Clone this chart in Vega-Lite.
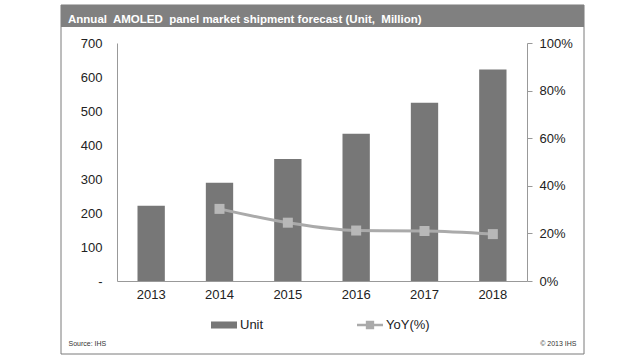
{
  "$schema": "https://vega.github.io/schema/vega-lite/v6.json",
  "width": 410,
  "height": 238,
  "autosize": {"type": "none"},
  "padding": {"left": 117, "top": 43, "right": 113, "bottom": 79},
  "background": "white",
  "config": {"view": {"stroke": null}, "font": "Liberation Sans"},
  "title": {
    "text": "Annual\u00a0 AMOLED\u00a0 panel market shipment forecast (Unit,\u00a0 Million)",
    "anchor": "start",
    "frame": "group",
    "dx": -49,
    "offset": 0,
    "dy": 30,
    "baseline": "alphabetic",
    "font": "Liberation Sans",
    "fontSize": 11.5,
    "fontWeight": "bold",
    "color": "white"
  },
  "data": {
    "values": [
      {"year": "2013", "unit": 221, "yoy": null},
      {"year": "2014", "unit": 289, "yoy": 0.303},
      {"year": "2015", "unit": 359, "yoy": 0.245},
      {"year": "2016", "unit": 433, "yoy": 0.212},
      {"year": "2017", "unit": 524, "yoy": 0.21},
      {"year": "2018", "unit": 622, "yoy": 0.197}
    ]
  },
  "layer": [
    {
      "data": {"values": [{}]},
      "mark": {"type": "rect", "x": -56, "x2": 467, "y": -38, "y2": 311, "fill": "transparent", "stroke": "#7a7a7a", "strokeWidth": 1},
      "encoding": {}
    },
    {
      "data": {"values": [{}]},
      "mark": {"type": "rect", "x": -56, "x2": 467, "y": -38, "y2": -16, "fill": "#808080"},
      "encoding": {}
    },
    {
      "mark": {"type": "bar"},
      "encoding": {
        "x": {
          "field": "year", "type": "ordinal",
          "scale": {"paddingInner": 0.6, "paddingOuter": 0.3},
          "axis": {"title": null, "labelAngle": 0, "ticks": false, "domainColor": "#999999", "labelPadding": 7, "labelFontSize": 13, "labelColor": "#222222"}
        },
        "y": {
          "field": "unit", "type": "quantitative",
          "scale": {"domain": [0, 700]},
          "axis": {
            "values": [0, 100, 200, 300, 400, 500, 600, 700],
            "labelExpr": "datum.value === 0 ? '-' : datum.label",
            "domainColor": "#999999", "ticks": false, "grid": false,
            "labelPadding": 15, "labelFontSize": 13, "labelColor": "#222222",
            "title": "Source: IHS", "titleAngle": 0, "titleX": -49, "titleY": 300,
            "titleAlign": "left", "titleBaseline": "middle", "titleFontSize": 7,
            "titleFontWeight": "normal", "titleColor": "#333333"
          }
        },
        "color": {
          "datum": "Unit",
          "scale": {"domain": ["Unit", "YoY(%)"], "range": ["#777777", "#aaaaaa"]},
          "legend": {
            "orient": "none", "legendX": 94, "legendY": 269, "direction": "horizontal",
            "title": null, "labelFontSize": 13, "labelColor": "#222222",
            "symbolSize": 676, "columnPadding": 93, "labelOffset": 3, "padding": 0,
            "encode": {
              "symbols": {
                "update": {
                  "shape": {"signal": "datum.value === 'Unit' ? 'M-1,-0.27H1V0.27H-1Z' : 'M-1,-0.09H1V0.09H-1Z M-0.32,-0.32H0.32V0.32H-0.32Z'"},
                  "fill": {"signal": "datum.value === 'Unit' ? '#777777' : '#aaaaaa'"},
                  "stroke": {"value": "transparent"},
                  "strokeWidth": {"value": 0},
                  "opacity": {"value": 1},
                  "fillOpacity": {"value": 1}
                }
              }
            }
          }
        }
      }
    },
    {
      "transform": [{"filter": "isValid(datum.yoy)"}],
      "encoding": {
        "x": {
          "field": "year", "type": "ordinal",
          "scale": {"paddingInner": 0.6, "paddingOuter": 0.3},
          "axis": {"title": null, "labelAngle": 0, "ticks": false, "domainColor": "#999999", "labelPadding": 7, "labelFontSize": 13, "labelColor": "#222222"}
        },
        "y": {
          "field": "yoy", "type": "quantitative",
          "scale": {"domain": [0, 1]},
          "axis": {
            "orient": "right", "format": ".0%",
            "values": [0, 0.2, 0.4, 0.6, 0.8, 1],
            "domainColor": "#999999", "tickColor": "#999999", "tickSize": 5, "grid": false,
            "labelPadding": 7, "labelFontSize": 13, "labelColor": "#222222",
            "title": "© 2013 IHS", "titleAngle": 0, "titleX": 49, "titleY": 300,
            "titleAlign": "right", "titleBaseline": "middle", "titleFontSize": 7,
            "titleFontWeight": "normal", "titleColor": "#333333"
          }
        }
      },
      "layer": [
        {
          "mark": {"type": "line", "strokeWidth": 3, "interpolate": "monotone"},
          "encoding": {"color": {"datum": "YoY(%)"}}
        },
        {
          "mark": {"type": "point", "shape": "square", "filled": true, "size": 100, "color": "#b8b8b8", "opacity": 1}
        }
      ]
    }
  ],
  "resolve": {"scale": {"y": "independent"}}
}
